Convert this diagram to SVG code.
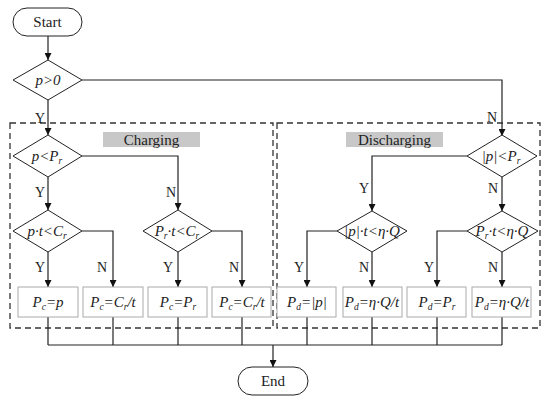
<svg xmlns="http://www.w3.org/2000/svg" width="550" height="403" viewBox="0 0 550 403">
<style>
text{font-family:"Liberation Serif","Times New Roman",serif;fill:#222;}
.t{font-size:15px;text-anchor:middle;}
.m{font-size:15px;text-anchor:middle;font-style:italic;}
.s{font-size:9.5px;}
.lbl{font-size:14px;text-anchor:middle;}
.dia{fill:#fff;stroke:#222;stroke-width:1;}
.term{fill:#fff;stroke:#222;stroke-width:1;}
.box{fill:#fff;stroke:#aaa;stroke-width:1;}
.cn{fill:none;stroke:#222;stroke-width:1.2;}
.dash{fill:none;stroke:#333;stroke-width:1.3;stroke-dasharray:6,4;}
.tag{fill:#c8c8c8;}
</style>
<defs>
<marker id="ah" viewBox="0 0 10 10" refX="10" refY="5" markerWidth="7" markerHeight="7" markerUnits="userSpaceOnUse" orient="auto">
<path d="M0,0 L10,5 L0,10 Z" fill="#111"/>
</marker>
</defs>

<g id="regions">
<rect class="dash" x="10" y="123" width="263" height="205"/>
<rect class="dash" x="277" y="123" width="263" height="205"/>
<rect class="tag" x="103" y="132" width="97" height="15"/>
<text class="t" x="151.5" y="145">Charging</text>
<rect class="tag" x="346" y="132" width="97" height="15"/>
<text class="t" x="394.5" y="145">Discharging</text>
</g>

<g id="connectors">
<path class="cn" d="M48,36 V60" marker-end="url(#ah)"/>
<path class="cn" d="M48,100 V135" marker-end="url(#ah)"/>
<path class="cn" d="M82,80 H502 V136" marker-end="url(#ah)"/>
<path class="cn" d="M48,177 V210" marker-end="url(#ah)"/>
<path class="cn" d="M82,156 H178 V210" marker-end="url(#ah)"/>
<path class="cn" d="M48,252 V287" marker-end="url(#ah)"/>
<path class="cn" d="M82,231 H113 V287" marker-end="url(#ah)"/>
<path class="cn" d="M178,252 V287" marker-end="url(#ah)"/>
<path class="cn" d="M212,231 H242 V287" marker-end="url(#ah)"/>
<path class="cn" d="M467,156 H372 V211" marker-end="url(#ah)"/>
<path class="cn" d="M502,177 V211" marker-end="url(#ah)"/>
<path class="cn" d="M337,231 H307 V287" marker-end="url(#ah)"/>
<path class="cn" d="M372,252 V287" marker-end="url(#ah)"/>
<path class="cn" d="M467,231 H437 V287" marker-end="url(#ah)"/>
<path class="cn" d="M502,252 V287" marker-end="url(#ah)"/>
<path class="cn" d="M48,317 V345 M113,317 V345 M178,317 V345 M242,317 V345 M307,317 V345 M372,317 V345 M437,317 V345 M502,317 V345 M48,345 H502"/>
<path class="cn" d="M273,345 V367" marker-end="url(#ah)"/>
<text class="lbl" x="40" y="123">Y</text>
<text class="lbl" x="492" y="122">N</text>
<text class="lbl" x="40" y="197">Y</text>
<text class="lbl" x="171" y="197">N</text>
<text class="lbl" x="40" y="272">Y</text>
<text class="lbl" x="102" y="272">N</text>
<text class="lbl" x="168" y="272">Y</text>
<text class="lbl" x="234" y="272">N</text>
<text class="lbl" x="364" y="193">Y</text>
<text class="lbl" x="493" y="193">N</text>
<text class="lbl" x="299" y="272">Y</text>
<text class="lbl" x="364" y="272">N</text>
<text class="lbl" x="429" y="272">Y</text>
<text class="lbl" x="493" y="272">N</text>
</g>

<g id="start">
<rect class="term" x="13" y="8" width="69" height="28" rx="14"/>
<text class="t" x="47.5" y="27">Start</text>
</g>
<g id="end">
<rect class="term" x="238" y="367" width="70" height="28" rx="14"/>
<text class="t" x="273" y="386">End</text>
</g>

<g id="d-p0">
<path class="dia" d="M48,60 L82,80 L48,100 L13,80 Z"/>
<text class="m" x="48" y="85">p&gt;0</text>
</g>
<g id="d-pPr">
<path class="dia" d="M48,135 L82,156 L48,177 L13,156 Z"/>
<text class="m" x="47" y="161">p&lt;P<tspan class="s" dy="3">r</tspan></text>
</g>
<g id="d-ptCr">
<path class="dia" d="M48,210 L82,231 L48,252 L13,231 Z"/>
<text class="m" x="47" y="236">p·t&lt;C<tspan class="s" dy="3">r</tspan></text>
</g>
<g id="d-PrtCr">
<path class="dia" d="M178,210 L212,231 L178,252 L143,231 Z"/>
<text class="m" x="177" y="236">P<tspan class="s" dy="3">r</tspan><tspan dy="-3">·t&lt;C</tspan><tspan class="s" dy="3">r</tspan></text>
</g>
<g id="d-absPr">
<path class="dia" d="M502,135 L537,156 L502,177 L467,156 Z"/>
<text class="m" x="501" y="161">|p|&lt;P<tspan class="s" dy="3">r</tspan></text>
</g>
<g id="d-absptQ">
<path class="dia" d="M372,211 L407,231 L372,252 L337,231 Z"/>
<text class="m" x="372" y="236">|p|·t&lt;η·Q</text>
</g>
<g id="d-PrtQ">
<path class="dia" d="M502,211 L538,231 L502,252 L467,231 Z"/>
<text class="m" x="502" y="236">P<tspan class="s" dy="3">r</tspan><tspan dy="-3">·t&lt;η·Q</tspan></text>
</g>

<g id="b1"><rect class="box" x="18" y="287" width="60" height="30"/>
<text class="m" x="48" y="307">P<tspan class="s" dy="3">c</tspan><tspan dy="-3">=p</tspan></text></g>
<g id="b2"><rect class="box" x="83" y="287" width="60" height="30"/>
<text class="m" x="113" y="307">P<tspan class="s" dy="3">c</tspan><tspan dy="-3">=C</tspan><tspan class="s" dy="3">r</tspan><tspan dy="-3">/t</tspan></text></g>
<g id="b3"><rect class="box" x="148" y="287" width="59" height="30"/>
<text class="m" x="178" y="307">P<tspan class="s" dy="3">c</tspan><tspan dy="-3">=P</tspan><tspan class="s" dy="3">r</tspan></text></g>
<g id="b4"><rect class="box" x="212" y="287" width="59" height="30"/>
<text class="m" x="242" y="307">P<tspan class="s" dy="3">c</tspan><tspan dy="-3">=C</tspan><tspan class="s" dy="3">r</tspan><tspan dy="-3">/t</tspan></text></g>
<g id="b5"><rect class="box" x="277" y="287" width="59" height="30"/>
<text class="m" x="307" y="307">P<tspan class="s" dy="3">d</tspan><tspan dy="-3">=|p|</tspan></text></g>
<g id="b6"><rect class="box" x="343" y="287" width="59" height="30"/>
<text class="m" x="372" y="307">P<tspan class="s" dy="3">d</tspan><tspan dy="-3">=η·Q/t</tspan></text></g>
<g id="b7"><rect class="box" x="407" y="287" width="59" height="30"/>
<text class="m" x="437" y="307">P<tspan class="s" dy="3">d</tspan><tspan dy="-3">=P</tspan><tspan class="s" dy="3">r</tspan></text></g>
<g id="b8"><rect class="box" x="472" y="287" width="59" height="30"/>
<text class="m" x="502" y="307">P<tspan class="s" dy="3">d</tspan><tspan dy="-3">=η·Q/t</tspan></text></g>
</svg>
